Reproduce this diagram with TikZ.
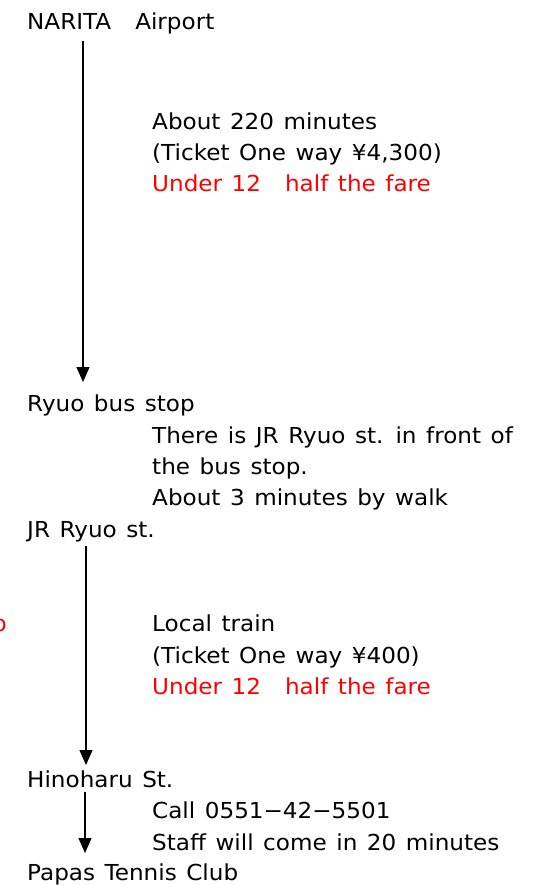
\documentclass[tikz,border=0pt]{standalone}
\usepackage{fontspec}
\setmainfont{DejaVu Sans}[FakeStretch=1.05, WordSpace=1.3]
\usetikzlibrary{arrows.meta}
\definecolor{farered}{RGB}{255,0,0}
\tikzset{
  lbl/.style={anchor=base west, inner sep=0pt, font=\fontsize{22}{26}\selectfont},
  note/.style={lbl},
  rednote/.style={lbl, text=farered},
  route/.style={line width=1.4pt, -{Triangle[length=15pt,width=13pt]}}
}
\begin{document}
\begin{tikzpicture}[x=1pt,y=-1pt]
\useasboundingbox (0,0) rectangle (538,885);
\fill[white] (0,0) rectangle (538,885);
% stations
\node[lbl] (narita) at (27,30) {NARITA\hspace{24pt}Airport};
\node[lbl] (ryuobus) at (27,411) {Ryuo bus stop};
\node[lbl] (jrryuo) at (27,537) {JR Ryuo st.};
\node[lbl] (hino) at (27,787) {Hinoharu St.};
\node[lbl] (papas) at (27,880) {Papas Tennis Club};
% notes
\node[note] (n1) at (152,130) {About 220 minutes};
\node[note] (n2) at (152,161) {(Ticket One way ¥4,300)};
\node[rednote] (n3) at (152,192) {Under 12\hspace{24pt}half the fare};
\node[note] (n4) at (152,443) {There is JR Ryuo st. in front of};
\node[note] (n5) at (152,474) {the bus stop.};
\node[note] (n6) at (152,505) {About 3 minutes by walk};
\node[note] (n7) at (152,631) {Local train};
\node[note] (n8) at (152,663) {(Ticket One way ¥400)};
\node[rednote] (n9) at (152,694) {Under 12\hspace{24pt}half the fare};
\node[note] (n10) at (152,818) {Call 0551−42−5501};
\node[note] (n11) at (152,850) {Staff will come in 20 minutes};
\node[rednote, anchor=base east] (cut) at (7,631) {p};
% arrow endpoints
\coordinate (a1s) at (83,41);
\coordinate (a1e) at (83,382);
\coordinate (a2s) at (86,546);
\coordinate (a2e) at (86,765);
\coordinate (a3s) at (85,792);
\coordinate (a3e) at (85,853);
\draw[route] (a1s) -- (a1e);
\draw[route] (a2s) -- (a2e);
\draw[route] (a3s) -- (a3e);
\end{tikzpicture}
\end{document}
